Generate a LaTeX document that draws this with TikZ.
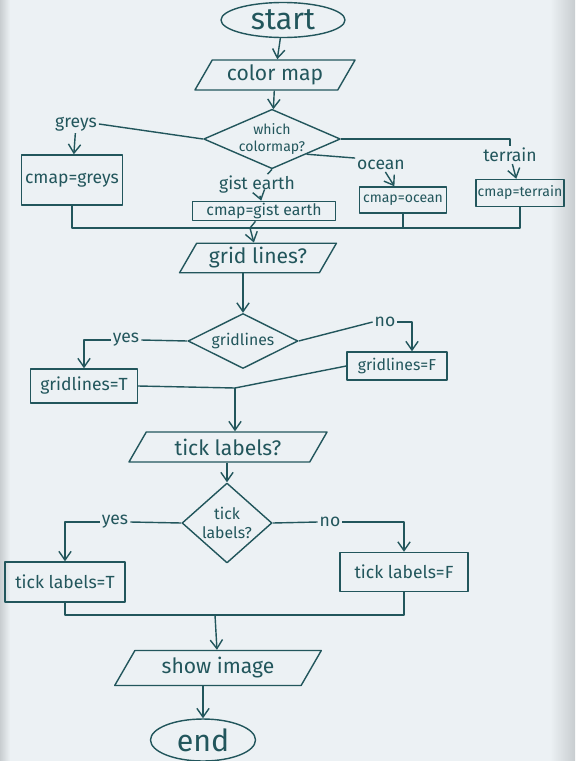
\documentclass[tikz,border=0pt]{standalone}
\usepackage{fontspec}
\setmainfont{Fira Sans}
\usetikzlibrary{arrows.meta,shapes.geometric,calc}
\definecolor{paper}{RGB}{236,241,244}
\definecolor{ink}{RGB}{34,86,92}
\definecolor{edge}{RGB}{200,205,208}

\begin{document}
\begin{tikzpicture}[x=0.02cm, y=-0.02cm, line join=round,
  every node/.style={text=ink},
  >={Straight Barb[length=5pt,width=7pt]},
  flow/.style={draw=ink, line width=0.8pt},
  term/.style={ellipse, draw=ink, line width=0.8pt, inner sep=0pt},
  io/.style={trapezium, trapezium left angle=60, trapezium right angle=120, draw=ink, line width=0.8pt, inner sep=1pt},
  decide/.style={diamond, draw=ink, line width=0.8pt, inner sep=0pt, align=center, font=\small},
  proc/.style={rectangle, draw=ink, line width=0.8pt, inner sep=2pt},
  branch/.style={font=\normalsize, inner sep=1pt}]
\fill[paper] (0,0) rectangle (575,761);
\shade[left color=paper, right color=edge] (550,0) rectangle (575,761);
\shade[left color=edge, right color=paper] (0,0) rectangle (10,761);
\useasboundingbox (0,0) rectangle (575,761);

\node[term, minimum width=2.48cm, minimum height=0.7cm, font=\LARGE] (start) at (283,20) {start};
\node[io, minimum width=3.0cm, minimum height=0.6cm, font=\large] (cmapq) at (275,75) {color map};
\node[decide, minimum width=2.4cm, minimum height=1.05cm, aspect=2.3, font=\footnotesize] (which) at (272,139) {which\\colormap?};

\node[branch] (lgreys) at (76,124) {greys};
\node[branch] (lgist) at (257,185) {gist earth};
\node[branch] (locean) at (381,165) {ocean};
\node[branch] (lterrain) at (510,155) {terrain};

\node[proc, minimum width=1.9cm, minimum height=1.0cm] (greys) at (72,180) {cmap=greys};
\node[proc, minimum width=2.86cm, minimum height=0.38cm, font=\small, inner sep=1pt] (gist) at (264,211) {cmap=gist earth};
\node[proc, minimum width=1.74cm, minimum height=0.52cm, font=\footnotesize, inner sep=1pt] (ocean) at (403,200) {cmap=ocean};
\node[proc, minimum width=1.6cm, minimum height=0.54cm, font=\footnotesize, inner sep=1pt] (terrain) at (520,193) {cmap=terrain};
\coordinate (m1) at (250,228);

\node[io, minimum width=3.14cm, minimum height=0.58cm, font=\large] (gridq) at (258,258) {grid lines?};
\node[decide, minimum width=2.2cm, minimum height=1.1cm, aspect=2] (gridd) at (243,341) {gridlines};
\node[branch] (lyes1) at (126,340) {yes};
\node[branch] (lno1) at (385,322) {no};
\node[proc, minimum width=2.14cm, minimum height=0.68cm] (gridT) at (84,386) {gridlines=T};
\node[proc, minimum width=2.0cm, minimum height=0.56cm, font=\small] (gridF) at (397,366) {gridlines=F};
\coordinate (m2) at (235,388);

\node[io, minimum width=3.1cm, minimum height=0.6cm, font=\large] (tickq) at (228,447) {tick labels?};
\node[decide, minimum width=1.8cm, minimum height=1.6cm, aspect=1.1] (tickd) at (227,523) {tick\\labels?};
\node[branch] (lyes2) at (115,522) {yes};
\node[branch] (lno2) at (330,522) {no};
\node[proc, minimum width=2.4cm, minimum height=0.8cm] (tickT) at (65,582) {tick labels=T};
\node[proc, minimum width=2.56cm, minimum height=0.78cm] (tickF) at (404,572) {tick labels=F};
\coordinate (m3) at (215,615);

\node[io, minimum width=3.14cm, minimum height=0.7cm, font=\large] (show) at (218,668) {show image};
\node[term, minimum width=2.1cm, minimum height=0.84cm, font=\LARGE] (end) at (203,740) {end};

\draw[flow,->] (start) -- (cmapq);
\draw[flow,->] (cmapq) -- (which);
\draw[flow] (which.west) -- (lgreys.east);
\draw[flow,->] (lgreys) -- (greys);
\draw[flow] (which.east) -| (lterrain.north);
\draw[flow,->] (lterrain) -- (terrain);
\draw[flow] (which.south east) -- (locean.north west);
\draw[flow,->] (locean) -- (ocean);
\draw[flow] (which.south) -- (lgist);
\draw[flow,->] (lgist) -- (gist);
\draw[flow] (greys.south) |- (m1);
\draw[flow] (terrain.south) |- (m1);
\draw[flow] (ocean.south) -- (ocean.south |- m1);
\draw[flow] (gist) -- (m1);
\draw[flow,->] (m1) -- (gridq);

\draw[flow,->] (gridd.north |- gridq.south) -- (gridd.north);
\draw[flow] (gridd.west) -- (lyes1.east);
\draw[flow,->] (lyes1.west) -| (gridT.north);
\draw[flow] (gridd.east) -- (lno1.west);
\draw[flow,->] (lno1.east) -| ($(gridF.north)+(15,0)$);
\draw[flow] (gridT.east) -- (m2);
\draw[flow] (gridF.west) -- (m2);
\draw[flow,->] (m2) -- (m2 |- tickq.north);

\draw[flow,->] (tickd.north |- tickq.south) -- (tickd.north);
\draw[flow] (tickd.west) -- (lyes2.east);
\draw[flow,->] (lyes2.west) -| (tickT.north);
\draw[flow] (tickd.east) -- (lno2.west);
\draw[flow,->] (lno2.east) -| (tickF.north);
\draw[flow] (tickT.south) |- (m3);
\draw[flow] (tickF.south) |- (m3);
\draw[flow,->] (m3) -- (show);
\draw[flow,->] (end.north |- show.south) -- (end.north);
\end{tikzpicture}
\end{document}
